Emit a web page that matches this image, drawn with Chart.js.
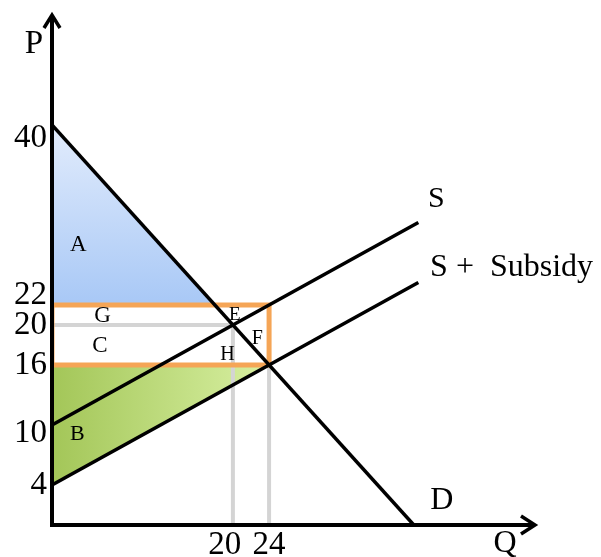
<!DOCTYPE html>
<html>
<head>
<meta charset="utf-8">
<script src="https://cdn.jsdelivr.net/npm/chart.js@4/dist/chart.umd.min.js"></script>
<style>html,body{margin:0;padding:0;background:#fff}canvas{display:block}</style>
</head>
<body>
<canvas id="c" width="601" height="557"></canvas>
<script>
// market with a per-unit subsidy: D, S, S + Subsidy
const demandQ=[0,40], demandP=[40,0];
const supplyQ=[0,40.5], supplyP=[10,30.25];
const subsidyQ=[0,40.5], subsidyP=[4,24.25];
const areaAQ=[0,18], areaAP=[40,22];   // consumer surplus above 22
const areaBQ=[0,24], areaBP=[4,16];    // producer surplus below 16
const eqQ=20, eqP=20;                  // no-subsidy equilibrium
const subQ=24, buyerP=16, sellerP=22;  // with subsidy
const yTicks=[4,10,16,20,22,40];
const xTicks=[20,24];
const labels=[
  {t:"A",q:2.9,p:28,s:23},
  {t:"G",q:5.6,p:20.9,s:23},
  {t:"C",q:5.3,p:17.9,s:23},
  {t:"E",q:20.2,p:21,s:19},
  {t:"F",q:22.7,p:18.6,s:20},
  {t:"H",q:19.4,p:17,s:20},
  {t:"B",q:2.8,p:9.1,s:22},
  {t:"S",q:42.5,p:32.6,s:30},
  {t:"S +  Subsidy",q:41.8,p:25.7,s:32,a:"left"},
  {t:"D",q:43.1,p:2.4,s:32},
  {t:"Q",q:50.1,p:-1.9,s:32},
  {t:"P",q:-2,p:48.1,s:33}
];
// the drawing is not to scale: nudge a few tick labels (px, + = down)
const tickNudge={40:13,22:-10,10:8};

const FONT='"Liberation Serif", "DejaVu Serif", serif';
const pts=(qs,ps)=>qs.map((q,i)=>({x:q,y:ps[i]}));
const line=(data,color,w)=>({data,showLine:true,borderColor:color,borderWidth:w,pointRadius:0,fill:false,borderJoinStyle:"miter",borderCapStyle:"butt"});

function gradA(c){const ch=c.chart;if(!ch.chartArea)return"#c0d6f8";const y=ch.scales.y;
  const g=ch.ctx.createLinearGradient(0,y.getPixelForValue(areaAP[0]),0,y.getPixelForValue(areaAP[1]));
  g.addColorStop(0,"#e2ecfc");g.addColorStop(1,"#a8c8f6");return g}
function gradB(c){const ch=c.chart;if(!ch.chartArea)return"#bedc80";const x=ch.scales.x;
  const g=ch.ctx.createLinearGradient(x.getPixelForValue(areaBQ[0]),0,x.getPixelForValue(areaBQ[1]),0);
  g.addColorStop(0,"#a3c658");g.addColorStop(1,"#d8f0a2");return g}

// first dataset is drawn on top
const datasets=[
  line(pts(demandQ,demandP),"#000",3.5),
  line(pts(supplyQ,supplyP),"#000",3.5),
  line(pts(subsidyQ,subsidyP),"#000",3.5),
  line([{x:0,y:sellerP},{x:subQ,y:sellerP},{x:subQ,y:buyerP},{x:0,y:buyerP},{x:0,y:sellerP}],"#f5a556",5),
  line([{x:0,y:eqP},{x:eqQ,y:eqP}],"#d4d4d4",4),
  line([{x:eqQ,y:eqP},{x:eqQ,y:0}],"#d4d4d4",4),
  line([{x:subQ,y:buyerP},{x:subQ,y:0}],"#d4d4d4",4),
  Object.assign(line(pts(areaAQ,areaAP),"rgba(0,0,0,0)",0),{fill:{value:areaAP[1]},backgroundColor:gradA}),
  Object.assign(line(pts(areaBQ,areaBP),"rgba(0,0,0,0)",0),{fill:{value:areaBP[1]},backgroundColor:gradB})
];

const axesPlugin={id:"axes",afterDatasetsDraw(chart){
  const {ctx,chartArea:a}=chart;ctx.save();
  ctx.strokeStyle="#000";ctx.lineWidth=4;ctx.lineCap="butt";ctx.lineJoin="miter";
  ctx.beginPath();ctx.moveTo(a.left,a.top+2);ctx.lineTo(a.left,a.bottom);ctx.lineTo(a.right-2,a.bottom);ctx.stroke();
  ctx.lineWidth=3.5;
  ctx.beginPath();ctx.moveTo(a.left-8,a.top+13);ctx.lineTo(a.left,a.top);ctx.lineTo(a.left+8,a.top+13);ctx.stroke();
  ctx.beginPath();ctx.moveTo(a.right-14,a.bottom-9);ctx.lineTo(a.right,a.bottom);ctx.lineTo(a.right-14,a.bottom+9);ctx.stroke();
  // text labels
  ctx.fillStyle="#000";ctx.textBaseline="middle";
  labels.forEach(l=>{ctx.font=l.s+"px "+FONT;ctx.textAlign=l.a||"center";
    ctx.fillText(l.t,chart.scales.x.getPixelForValue(l.q),chart.scales.y.getPixelForValue(l.p))});
  ctx.restore();
}};

const noPad=s=>{s.paddingTop=0;s.paddingBottom=0;s.paddingLeft=0;s.paddingRight=0};

new Chart(document.getElementById("c"),{type:"scatter",data:{datasets},
  options:{responsive:false,animation:false,devicePixelRatio:1,
    layout:{padding:{left:0,right:66,top:15,bottom:0}},
    plugins:{legend:{display:false},tooltip:{enabled:false}},
    scales:{
      x:{type:"linear",min:0,max:53.4,border:{display:false},grid:{display:false,drawTicks:false},
        afterBuildTicks:s=>{s.ticks=xTicks.map(v=>({value:v}))},afterFit:s=>{s.height=32;noPad(s)},
        ticks:{color:"#000",padding:1,font:{family:FONT,size:33},
          callback:v=>v===eqQ?v+"  ":String(v)}},   // keep "20" clear of "24"
      y:{type:"linear",min:0,max:51,border:{display:false},grid:{display:false,drawTicks:false},
        afterBuildTicks:s=>{s.ticks=yTicks.map(v=>({value:v}))},afterFit:s=>{s.width=52;noPad(s)},
        ticks:{color:"#000",padding:5,
          font:c=>{const n=c.tick&&tickNudge[c.tick.value];return{family:FONT,size:33,lineHeight:n?(2*Math.abs(n))+"px":1.2}},
          callback:v=>{const n=tickNudge[v];return n?(n<0?[String(v),""]:["",String(v)]):String(v)}}}
    }},
  plugins:[axesPlugin]});
</script>
</body>
</html>
